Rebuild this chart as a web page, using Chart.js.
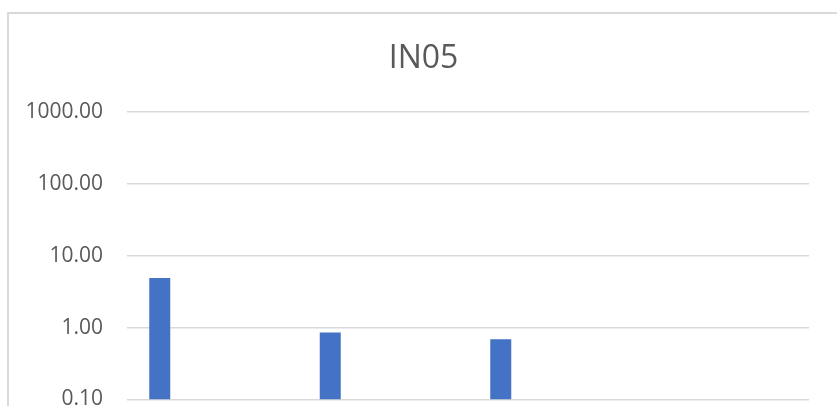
<!DOCTYPE html>
<html>
<head>
<meta charset="utf-8">
<script src="https://cdn.jsdelivr.net/npm/chart.js@4/dist/chart.umd.min.js"></script>
<style>
  html, body { margin: 0; padding: 0; background: #ffffff; overflow: hidden; }
  #wrap { position: relative; width: 837px; height: 406px; overflow: hidden; background: #fff; }
  #frame { position: absolute; left: 7px; top: 12px; width: 900px; height: 500px; border: 2px solid #d9d9d9; box-sizing: border-box; }
  #holder { position: absolute; left: 0; top: 0; width: 837px; height: 436px; }
</style>
</head>
<body>
<div id="wrap">
  <div id="frame"></div>
  <div id="holder"><canvas id="c" width="837" height="436"></canvas></div>
</div>
<script>
// Data
const chartTitle = 'IN05';
const categories = ['1', '2', '3', '4'];
const series1 = [4.9, 0.85, 0.69, null];
const series2 = [null, null, null, null];
const series3 = [null, null, null, null];
const series4 = [null, null, null, null];
const series5 = [null, null, null, null];
const series6 = [null, null, null, null];
const yTickValues = [0.1, 1, 10, 100, 1000];

const barColor = '#4472C4';
const textColor = '#595959';
const gridColor = '#d9d9d9';

const allSeries = [series1, series2, series3, series4, series5, series6];

// Title centred on the chart frame (as in the reference), drawn as text
const frameTitle = {
  id: 'frameTitle',
  afterDraw(chart) {
    const ctx = chart.ctx;
    ctx.save();
    ctx.fillStyle = textColor;
    ctx.font = 'normal 32px "Open Sans"';
    ctx.textAlign = 'center';
    ctx.textBaseline = 'alphabetic';
    ctx.fillText(chartTitle, 423.5, 68);
    ctx.restore();
  }
};

new Chart(document.getElementById('c'), {
  type: 'bar',
  data: {
    labels: categories,
    datasets: allSeries.map((s, i) => ({
      label: 'Series ' + (i + 1),
      data: s,
      backgroundColor: barColor,
      borderWidth: 0,
      categoryPercentage: 0.739,
      barPercentage: 1.0
    }))
  },
  plugins: [frameTitle],
  options: {
    responsive: false,
    animation: false,
    devicePixelRatio: 1,
    layout: { padding: { left: 0, right: 28, top: 112, bottom: 0 } },
    plugins: {
      legend: { display: false },
      tooltip: { enabled: false },
      title: { display: false }
    },
    scales: {
      x: {
        display: false,
        grid: { display: false }
      },
      y: {
        type: 'logarithmic',
        min: 0.1,
        max: 1000,
        afterBuildTicks: (scale) => {
          scale.ticks = yTickValues.map(v => ({ value: v }));
        },
        afterFit: (scale) => { scale.width = 127; },
        border: { display: false },
        grid: { color: gridColor, lineWidth: 1.5, drawTicks: false },
        ticks: {
          color: textColor,
          padding: 24,
          font: { family: 'Open Sans', size: 21 },
          autoSkip: false,
          callback: (v) => Number(v).toFixed(2)
        }
      }
    }
  }
});
</script>
</body>
</html>
